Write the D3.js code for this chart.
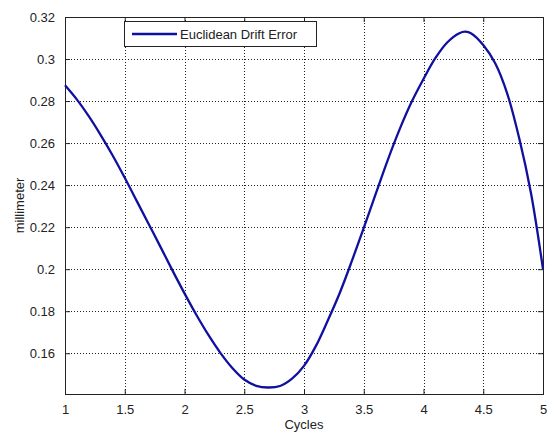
<!DOCTYPE html>
<html>
<head>
<meta charset="utf-8">
<script src="https://cdn.jsdelivr.net/npm/d3@7"></script>
<style>
  body { margin: 0; background: #fff; }
  text { font-family: "Liberation Sans", Arial, sans-serif; font-size: 13px; fill: #222; }
</style>
</head>
<body>
<script>
// data
const cycles = [1.0, 1.1, 1.2, 1.3, 1.4, 1.5, 1.6, 1.7, 1.8, 1.9,
  2.0, 2.1, 2.2, 2.3, 2.4, 2.5, 2.6, 2.7, 2.8, 2.9,
  3.0, 3.1, 3.2, 3.3, 3.4, 3.5, 3.6, 3.7, 3.8, 3.9,
  4.0, 4.1, 4.2, 4.3, 4.35, 4.4, 4.5, 4.6, 4.7, 4.8, 4.9, 5.0];
const drift = [0.2875, 0.2807, 0.2727, 0.2637, 0.2540, 0.2435, 0.2325, 0.2215, 0.2105, 0.1993,
  0.1885, 0.1782, 0.1687, 0.1602, 0.1530, 0.1475, 0.1445, 0.1437, 0.1444, 0.1479,
  0.1540, 0.1635, 0.1757, 0.1888, 0.2038, 0.2196, 0.2358, 0.2518, 0.2665, 0.2795,
  0.2905, 0.3005, 0.3080, 0.3123, 0.3130, 0.3122, 0.3067, 0.2980, 0.2837, 0.2625, 0.2360, 0.2000];
const xTicks = [1, 1.5, 2, 2.5, 3, 3.5, 4, 4.5, 5];
const xTickLabels = ["1", "1.5", "2", "2.5", "3", "3.5", "4", "4.5", "5"];
const yTicks = [0.16, 0.18, 0.2, 0.22, 0.24, 0.26, 0.28, 0.3, 0.32];
const yTickLabels = ["0.16", "0.18", "0.2", "0.22", "0.24", "0.26", "0.28", "0.3", "0.32"];
const seriesName = "Euclidean Drift Error";

const W = 547, H = 438;
const plot = {left: 65, right: 543, top: 17, bottom: 394};

const svg = d3.select("body").append("svg")
  .attr("width", W)
  .attr("height", H);

const x = d3.scaleLinear().domain([1, 5]).range([plot.left, plot.right]);
const y = d3.scaleLinear().domain([0.1406, 0.32]).range([plot.bottom, plot.top]);

// grid (dotted)
const grid = svg.append("g").attr("class", "grid")
  .attr("stroke", "#222")
  .attr("stroke-dasharray", "1,2")
  .attr("stroke-width", 1);

grid.selectAll(".gx")
  .data(xTicks.filter(t => t > 1 && t < 5))
  .enter().append("line")
  .attr("x1", d => Math.round(x(d)) + 0.5)
  .attr("x2", d => Math.round(x(d)) + 0.5)
  .attr("y1", plot.top)
  .attr("y2", plot.bottom);

grid.selectAll(".gy")
  .data(yTicks.filter(t => t < 0.32))
  .enter().append("line")
  .attr("y1", d => Math.round(y(d)) + 0.5)
  .attr("y2", d => Math.round(y(d)) + 0.5)
  .attr("x1", plot.left)
  .attr("x2", plot.right);

// axes with inward ticks on all four sides
const fmtX = (d, i) => xTickLabels[i];
const fmtY = (d, i) => yTickLabels[i];

svg.append("g")
  .attr("transform", `translate(0,${plot.bottom})`)
  .call(d3.axisBottom(x).tickValues(xTicks).tickFormat(fmtX).tickSizeInner(-5).tickSizeOuter(0).tickPadding(11));
svg.append("g")
  .attr("transform", `translate(0,${plot.top})`)
  .call(d3.axisTop(x).tickValues(xTicks).tickFormat("").tickSizeInner(-5).tickSizeOuter(0));
svg.append("g")
  .attr("transform", `translate(${plot.left},0)`)
  .call(d3.axisLeft(y).tickValues(yTicks).tickFormat(fmtY).tickSizeInner(-5).tickSizeOuter(0).tickPadding(10));
svg.append("g")
  .attr("transform", `translate(${plot.right},0)`)
  .call(d3.axisRight(y).tickValues(yTicks).tickFormat("").tickSizeInner(-5).tickSizeOuter(0));

svg.selectAll(".domain").remove();
svg.selectAll(".tick line").attr("stroke", "#222");
svg.selectAll(".tick text")
  .attr("fill", "#222")
  .style("font-size", "13px")
  .style("font-family", "'Liberation Sans', Arial, sans-serif");

// box
svg.append("rect")
  .attr("x", plot.left + 0.5)
  .attr("y", plot.top + 0.5)
  .attr("width", plot.right - plot.left)
  .attr("height", plot.bottom - plot.top)
  .attr("fill", "none")
  .attr("stroke", "#222")
  .attr("stroke-width", 1);

// curve
const line = d3.line()
  .x((d, i) => x(cycles[i]))
  .y(d => y(d))
  .curve(d3.curveCatmullRom);

svg.append("path")
  .datum(drift)
  .attr("d", line)
  .attr("fill", "none")
  .attr("stroke", "#1010a0")
  .attr("stroke-width", 2.3);

// labels
svg.append("text")
  .attr("x", (plot.left + plot.right) / 2)
  .attr("y", 429)
  .attr("text-anchor", "middle")
  .text("Cycles");

svg.append("text")
  .attr("transform", `translate(24,${(plot.top + plot.bottom) / 2}) rotate(-90)`)
  .attr("text-anchor", "middle")
  .text("millimeter");

// legend
const legend = svg.append("g").attr("class", "legend");
legend.append("rect")
  .attr("x", 124.5)
  .attr("y", 21.5)
  .attr("width", 192)
  .attr("height", 25)
  .attr("fill", "#fff")
  .attr("stroke", "#222");
legend.append("line")
  .attr("x1", 132)
  .attr("x2", 177)
  .attr("y1", 34)
  .attr("y2", 34)
  .attr("stroke", "#1010a0")
  .attr("stroke-width", 2.3);
legend.append("text")
  .attr("x", 180)
  .attr("y", 39)
  .text(seriesName);
</script>
</body>
</html>
